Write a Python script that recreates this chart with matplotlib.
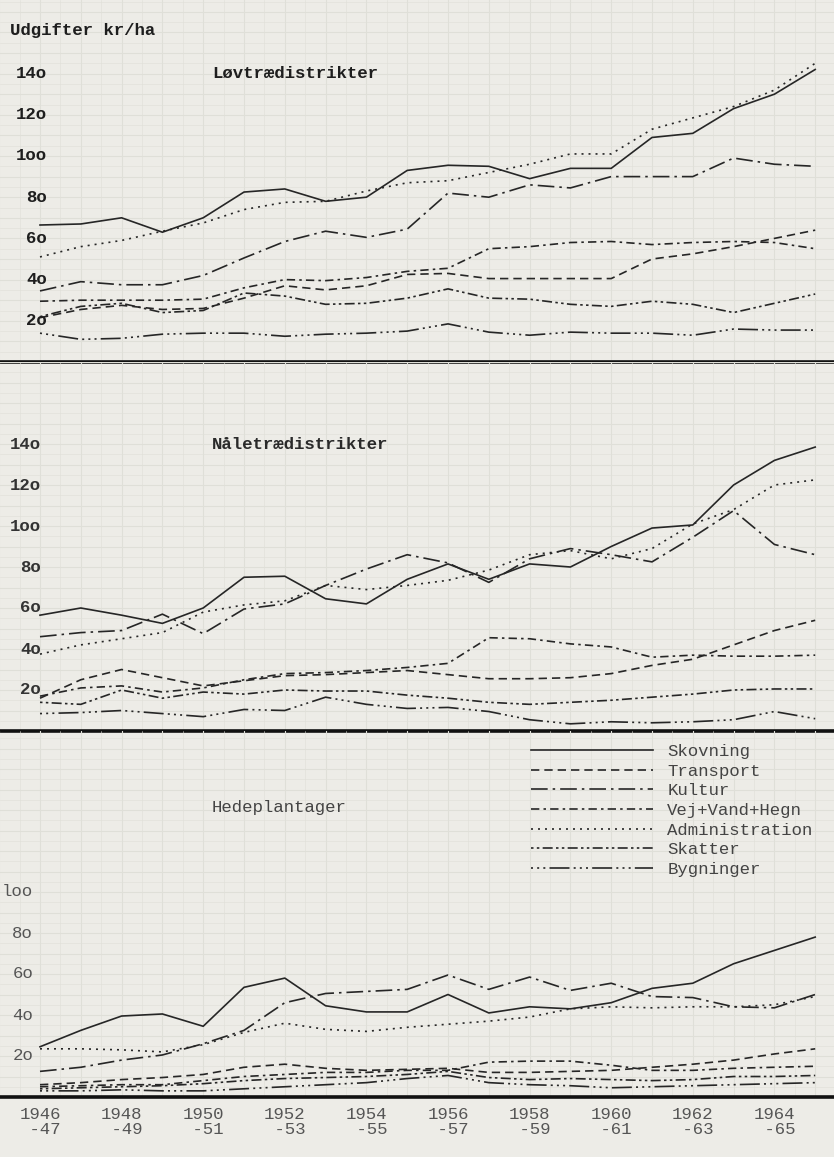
import numpy as np
import matplotlib
matplotlib.use('Agg')
from matplotlib import pyplot as plt
from matplotlib.lines import Line2D

# periods 1946/47 ... 1965/66
periods = ['%d/%02d' % (y, (y + 1) % 100) for y in range(1946, 1966)]
xtick_idx = [0, 2, 4, 6, 8, 10, 12, 14, 16, 18]
xtick_labels = ['1946\n -47', '1948\n -49', '1950\n -51', '1952\n -53', '1954\n -55',
                '1956\n -57', '1958\n -59', '1960\n -61', '1962\n -63', '1964\n -65']

series_names = ['Skovning', 'Transport', 'Kultur', 'Vej+Vand+Hegn',
                'Administration', 'Skatter', 'Bygninger']

# Løvtrædistrikter, kr/ha
skov_l = [66.5, 67, 70, 63, 70, 82.5, 84, 78, 80, 93, 95.5, 95, 89, 94, 94, 109, 111, 123, 130, 142]
tra_l = [21.5, 25.5, 27.5, 25.5, 26, 31, 37, 35, 37, 42.5, 43, 40.5, 40.5, 40.5, 40.5, 50, 52.5, 56, 60, 64]
kul_l = [34.5, 39, 37.5, 37.5, 42, 50.5, 58.5, 63.5, 60.5, 64.5, 82, 80, 86, 84.5, 90, 90, 90, 99, 96, 95]
vej_l = [29.5, 30, 30, 30, 30.5, 36, 40, 39.5, 41, 44, 45.5, 55, 56, 58, 58.5, 57, 58, 58.5, 58, 55]
adm_l = [51, 56, 59, 63.5, 67.5, 74, 77.5, 78, 83, 87, 88, 92, 96, 101, 101, 113, 118.5, 124, 132, 145]
ska_l = [22, 27, 28.5, 24, 25, 33.5, 32, 28, 28.5, 31, 35.5, 31, 30.5, 28, 27, 29.5, 28, 24, 28.5, 33]
byg_l = [14, 11, 11.5, 13.5, 14, 14, 12.5, 13.5, 14, 15, 18.5, 14.5, 13, 14.5, 14, 14, 13, 16, 15.5, 15.5]

# Nåletrædistrikter
skov_n = [56.5, 60, 56.5, 52.5, 60, 75, 75.5, 64.5, 62, 74, 81.5, 74, 81.5, 80, 90, 99, 100.5, 120, 132, 138.5]
tra_n = [16, 25, 30, 26, 22, 24.5, 27, 27.5, 28.5, 29.5, 27.5, 25.5, 25.5, 26, 28, 32, 35, 42, 49, 54]
kul_n = [46, 48, 49, 57, 47.5, 59.5, 62, 71, 79, 86, 82, 72.5, 84, 89, 86, 82.5, 94.5, 107.5, 91, 86]
vej_n = [17, 21, 22, 19, 21, 25, 28, 28.5, 29.5, 31, 33, 45.5, 45, 42.5, 41, 36, 37, 36.5, 36.5, 37]
adm_n = [37.5, 42, 45, 48, 58, 61.5, 63.5, 71, 69, 71, 73.5, 78.5, 86, 88, 84, 89, 101, 108, 120, 122.5]
ska_n = [14, 13, 20, 16, 19, 18, 20, 19.5, 19.5, 17.5, 16, 14, 13, 14, 15, 16.5, 18, 20, 20.5, 20.5]
byg_n = [8.5, 9, 10, 8.5, 7, 10.5, 10, 16.5, 13, 11, 11.5, 9.5, 5.5, 3.5, 4.5, 4, 4.5, 5.5, 9.5, 6]

# Hedeplantager
skov_h = [24.5, 32.5, 39.5, 40.5, 34.5, 53.5, 58, 44.5, 41.5, 41.5, 50, 41, 44, 43, 46, 53, 55.5, 65, 71.5, 78]
tra_h = [6, 7, 8.5, 9.5, 11, 14.5, 16, 14, 13, 13.5, 14, 12, 12, 12.5, 13, 14.5, 16, 18, 21, 23.5]
kul_h = [12.5, 14.5, 18, 20.5, 26, 32.5, 46, 50.5, 51.5, 52.5, 59.5, 52.5, 58.5, 52, 55.5, 49, 48.5, 44, 43.5, 50]
vej_h = [5, 5.5, 6, 6, 8, 10, 11, 12, 12, 13, 13, 17, 17.5, 17.5, 15.5, 13, 13, 14, 14.5, 15]
adm_h = [23.5, 23.5, 23, 22, 25.5, 31.5, 36, 33, 32, 34, 35.5, 37, 39, 43, 44, 43.5, 44, 44, 45, 49]
ska_h = [4, 4.5, 5, 5.5, 6.5, 8, 9, 9.5, 10, 11, 12.5, 9.5, 8.5, 9, 8.5, 8, 8.5, 10, 10, 10.5]
byg_h = [3, 3, 3.5, 3, 3, 4, 5, 6, 7, 9, 10.5, 7, 6, 5.5, 4.5, 5, 5.5, 6, 6.5, 7]

styles = ['-', (0, (5, 3)), (0, (10, 3, 1.5, 3)), (0, (5, 2.5, 1.5, 2.5)),
          (0, (1.2, 3)), (0, (1.5, 2, 1.5, 2, 6, 2)),
          (0, (1.2, 2.5, 1.2, 2.5, 1.2, 2.5, 12, 2.5))]

PAPER = '#edece7'
GRID = '#dfdfd8'
INK = '#262626'
FONT = 'Liberation Mono'

W, H = 834, 1157
PX_PER_IDX = 40.8
X0 = 40


def px_to_idx(px):
    return (px - X0) / PX_PER_IDX


def make_panel(fig, top_px, bottom_px, px_per_unit):
    ax = fig.add_axes([0, 1 - bottom_px / H, 1, (bottom_px - top_px) / H])
    ax.patch.set_visible(False)
    ax.set_xlim(px_to_idx(0), px_to_idx(W))
    ax.set_ylim(0, (bottom_px - top_px) / px_per_unit)
    # graph paper
    for i in np.arange(-1, 20.5, 0.5):
        ax.axvline(i, color=GRID, lw=0.8 if i % 1 == 0 else 0.4, zorder=0)
    for v in np.arange(5, 190, 5):
        ax.axhline(v, color=GRID, lw=0.8 if v % 10 == 0 else 0.4, zorder=0)
    for s in ['top', 'left', 'right']:
        ax.spines[s].set_visible(False)
    ax.spines['bottom'].set_linewidth(2.6)
    ax.spines['bottom'].set_color('#111111')
    ax.spines['bottom'].set_zorder(5)
    ax.set_yticks([])
    ax.set_xticks([])
    return ax


def draw_lines(ax, data):
    x = np.arange(len(periods))
    for vals, ls in zip(data, styles):
        ax.plot(x, vals, color=INK, lw=1.2, linestyle=ls, zorder=3)


def ylabels(ax, values, labels, right_px, color, weight):
    for v, lab in zip(values, labels):
        ax.text(px_to_idx(right_px), v, lab, ha='right', va='center',
                fontsize=12.5, family=FONT, color=color, weight=weight)


fig = plt.figure(figsize=(W / 100, H / 100), dpi=100)
fig.patch.set_facecolor(PAPER)

ax1 = make_panel(fig, 0, 362, 2.06)
draw_lines(ax1, [skov_l, tra_l, kul_l, vej_l, adm_l, ska_l, byg_l])
ylabels(ax1, [140, 120, 100, 80, 60, 40, 20],
        ['14o', '12o', '1oo', '8o', '6o', '4o', '2o'], 47, '#1e1e1e', 'bold')
ax1.text(px_to_idx(212), 140, 'Løvtrædistrikter', ha='left', va='center',
         fontsize=12.5, family=FONT, color='#1e1e1e', weight='bold')
ax1.text(10 / W, 1 - 30 / 362, 'Udgifter kr/ha', transform=ax1.transAxes,
         ha='left', va='center', fontsize=12.5, family=FONT, color='#1e1e1e', weight='bold')

ax2 = make_panel(fig, 362, 731, 2.05)
draw_lines(ax2, [skov_n, tra_n, kul_n, vej_n, adm_n, ska_n, byg_n])
ylabels(ax2, [140, 120, 100, 80, 60, 40, 20],
        ['14o', '12o', '1oo', '8o', '6o', '4o', '2o'], 41, '#333333', 'bold')
ax2.text(px_to_idx(212), 140, 'Nåletrædistrikter', ha='left', va='center',
         fontsize=12.5, family=FONT, color='#2a2a2a', weight='bold')

ax3 = make_panel(fig, 731, 1097, 2.05)
draw_lines(ax3, [skov_h, tra_h, kul_h, vej_h, adm_h, ska_h, byg_h])
ylabels(ax3, [100, 80, 60, 40, 20], ['loo', '8o', '6o', '4o', '2o'], 33, '#555555', 'normal')
ax3.text(px_to_idx(212), 141, 'Hedeplantager', ha='left', va='center',
         fontsize=12.5, family=FONT, color='#444444')

ax3.set_xticks(xtick_idx)
ax3.set_xticklabels(xtick_labels, fontsize=12.5, family=FONT, color='#555555')
ax3.tick_params(axis='x', length=0, pad=7)
for t in ax3.get_xticklabels():
    t.set_linespacing(1.05)

handles = [Line2D([], [], color=INK, lw=1.2, linestyle=ls) for ls in styles]
leg = ax3.legend(handles, series_names, loc='upper left',
                 bbox_to_anchor=(531 / W, 1 - 13 / 366), frameon=False,
                 handlelength=7.0, handletextpad=0.85, labelspacing=0.26,
                 borderpad=0, borderaxespad=0,
                 prop={'family': FONT, 'size': 12.5})
for t in leg.get_texts():
    t.set_color('#444444')

fig.savefig('out.png', dpi=100, facecolor=PAPER)
